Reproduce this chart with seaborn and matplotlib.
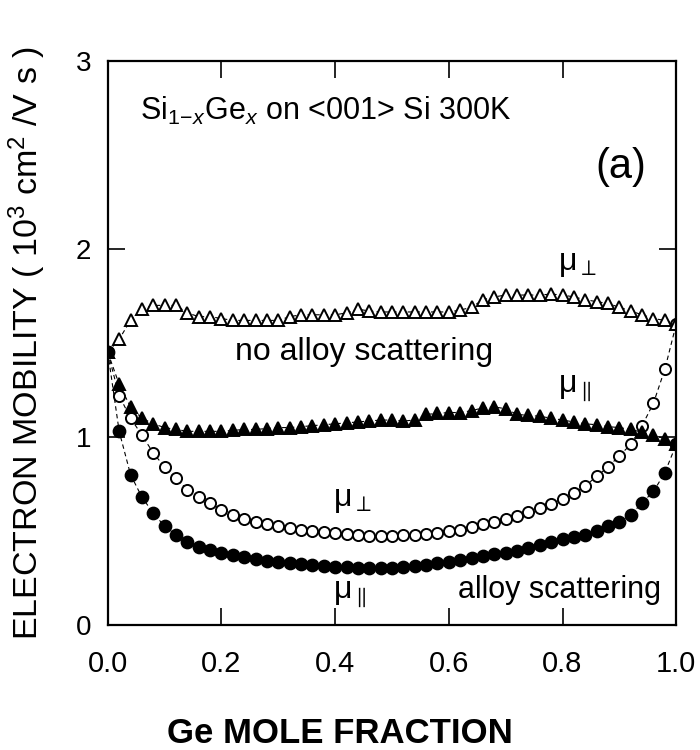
import numpy as np
import pandas as pd
import matplotlib
matplotlib.use("Agg")
import matplotlib.pyplot as plt
import seaborn as sns

# Ge mole fraction grid shared by all four curves
ge_fraction = [round(0.02 * i, 2) for i in range(51)]

# Electron mobility (10^3 cm^2/V s), no alloy scattering
mu_perp_no_alloy = [
    1.45, 1.52, 1.62, 1.68, 1.70, 1.70, 1.70, 1.66, 1.64, 1.64,
    1.63, 1.62, 1.62, 1.62, 1.62, 1.62, 1.64, 1.65, 1.65, 1.65,
    1.65, 1.66, 1.68, 1.67, 1.665, 1.665, 1.665, 1.665, 1.665, 1.665,
    1.665, 1.675, 1.69, 1.73, 1.745, 1.755, 1.755, 1.755, 1.755, 1.76,
    1.755, 1.745, 1.73, 1.72, 1.71, 1.69, 1.67, 1.65, 1.63, 1.62,
    1.60,
]
mu_par_no_alloy = [
    1.45, 1.28, 1.16, 1.10, 1.07, 1.05, 1.04, 1.03, 1.03, 1.03,
    1.03, 1.035, 1.04, 1.04, 1.045, 1.05, 1.05, 1.055, 1.06, 1.065,
    1.07, 1.075, 1.08, 1.085, 1.09, 1.09, 1.085, 1.09, 1.12, 1.125,
    1.13, 1.13, 1.14, 1.155, 1.16, 1.15, 1.12, 1.115, 1.11, 1.10,
    1.09, 1.08, 1.07, 1.065, 1.055, 1.05, 1.04, 1.025, 1.01, 0.99,
    0.96,
]

# Electron mobility with alloy scattering
mu_perp_alloy = [
    1.45, 1.22, 1.10, 1.01, 0.915, 0.84, 0.78, 0.72, 0.68, 0.65,
    0.61, 0.585, 0.565, 0.55, 0.535, 0.525, 0.515, 0.505, 0.50, 0.495,
    0.49, 0.485, 0.48, 0.475, 0.475, 0.475, 0.48, 0.48, 0.485, 0.49,
    0.50, 0.505, 0.52, 0.535, 0.55, 0.565, 0.58, 0.60, 0.62, 0.645,
    0.67, 0.70, 0.74, 0.79, 0.84, 0.90, 0.96, 1.06, 1.18, 1.36,
    1.60,
]
mu_par_alloy = [
    1.45, 1.03, 0.80, 0.68, 0.595, 0.525, 0.48, 0.44, 0.415, 0.40,
    0.385, 0.37, 0.36, 0.35, 0.34, 0.335, 0.33, 0.325, 0.32, 0.315,
    0.31, 0.31, 0.305, 0.305, 0.305, 0.305, 0.31, 0.315, 0.32, 0.33,
    0.335, 0.345, 0.355, 0.365, 0.375, 0.385, 0.395, 0.41, 0.425, 0.44,
    0.455, 0.47, 0.48, 0.50, 0.525, 0.55, 0.585, 0.65, 0.71, 0.81,
    0.96,
]

x_ticks = [0.0, 0.2, 0.4, 0.6, 0.8, 1.0]
x_tick_labels = ["0.0", "0.2", "0.4", "0.6", "0.8", "1.0"]
y_ticks = [0, 1, 2, 3]
y_tick_labels = ["0", "1", "2", "3"]

sns.set_style("ticks")
plt.rcParams["font.family"] = ["Liberation Sans", "DejaVu Sans"]
plt.rcParams["mathtext.fontset"] = "custom"
plt.rcParams["mathtext.rm"] = "Liberation Sans"
plt.rcParams["mathtext.it"] = "Liberation Sans:italic"
plt.rcParams["mathtext.bf"] = "Liberation Sans:bold"
plt.rcParams["mathtext.fallback"] = "stixsans"
plt.rcParams["text.color"] = "black"
plt.rcParams["axes.labelcolor"] = "black"

df = pd.DataFrame({
    "x": ge_fraction,
    "perp_no": mu_perp_no_alloy,
    "par_no": mu_par_no_alloy,
    "perp_al": mu_perp_alloy,
    "par_al": mu_par_alloy,
})

fig = plt.figure(figsize=(7, 7.5), dpi=100)
ax = fig.add_axes([0.154, 0.1667, 0.812, 0.752])

line_kw = dict(color="black", linewidth=0.8, linestyle=(0, (4, 3)),
               markeredgewidth=1.4, markeredgecolor="black")

sns.lineplot(data=df, x="x", y="perp_al", ax=ax, marker="o", markersize=8,
             markerfacecolor="white", **line_kw)
sns.lineplot(data=df, x="x", y="par_al", ax=ax, marker="o", markersize=8.5,
             markerfacecolor="black", **line_kw)
sns.lineplot(data=df, x="x", y="perp_no", ax=ax, marker="^", markersize=8.5,
             markerfacecolor="white", **line_kw)
sns.lineplot(data=df, x="x", y="par_no", ax=ax, marker="^", markersize=8.5,
             markerfacecolor="black", **line_kw)

ax.set_xlim(0, 1.0)
ax.set_ylim(0, 3)
ax.set_xticks(x_ticks)
ax.set_xticklabels(x_tick_labels)
ax.set_yticks(y_ticks)
ax.set_yticklabels(y_tick_labels)
ax.tick_params(axis="both", direction="in", length=12, width=1.2,
               top=True, right=True, colors="black")
ax.tick_params(axis="x", labelsize=21, pad=18)
ax.tick_params(axis="y", labelsize=20, pad=12)
for s in ax.spines.values():
    s.set_linewidth(1.6)
    s.set_color("black")

ax.set_xlabel("Ge MOLE FRACTION", fontsize=25, fontweight="bold")
ax.xaxis.set_label_coords(0.408, -0.164)
ax.set_ylabel(r"ELECTRON MOBILITY ( 10$^3$ cm$^2$ /V s )", fontsize=24.5)
ax.yaxis.set_label_coords(-0.105, 0.50)

ax.text(0.056, 2.686, r"Si$_{1\!-\!x}$Ge$_x$ on <001> Si 300K", fontsize=22,
        ha="left", va="baseline")
ax.text(0.903, 2.436, "(a)", fontsize=30, ha="center", va="center")
ax.text(0.827, 1.92, r"$\mathrm{\mu}_{\perp}$", fontsize=23,
        ha="center", va="center")
ax.text(0.45, 1.45, "no alloy scattering", fontsize=23,
        ha="center", va="center")
ax.text(0.822, 1.26, r"$\mathrm{\mu}_{\parallel}$", fontsize=23,
        ha="center", va="center")
ax.text(0.43, 0.665, r"$\mathrm{\mu}_{\perp}$", fontsize=23,
        ha="center", va="center")
ax.text(0.426, 0.165, r"$\mathrm{\mu}_{\parallel}$", fontsize=23,
        ha="center", va="center")
ax.text(0.794, 0.186, "alloy scattering", fontsize=22,
        ha="center", va="center")

fig.savefig("out.png", dpi=100)
